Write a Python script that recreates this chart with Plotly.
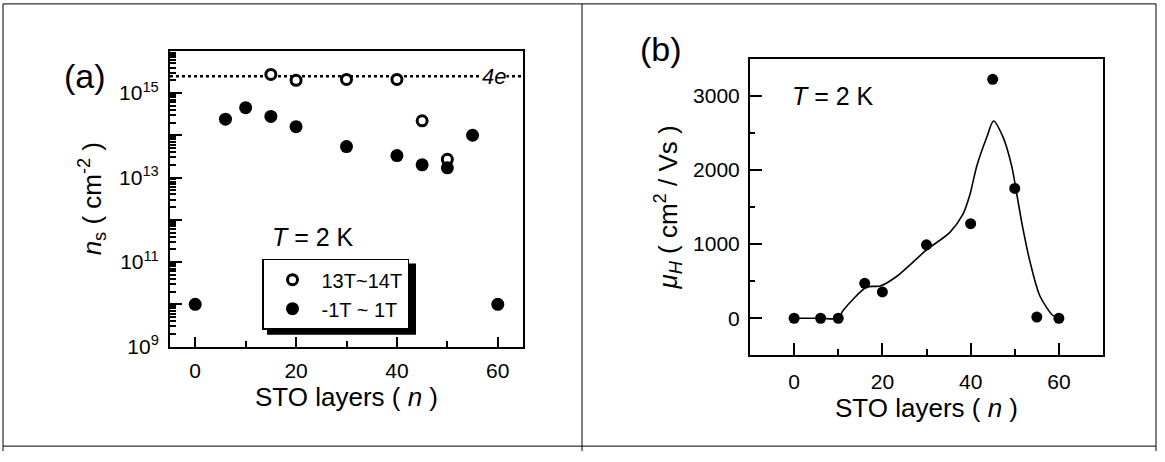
import plotly.graph_objects as go
import math

W, H = 1165, 462

# ---- Data panel (a) ----
high_field_n = [15, 20, 30, 40, 45, 50]
high_field_ns = [2.75e15, 2.0e15, 2.1e15, 2.1e15, 2.2e14, 2.7e13]
low_field_n = [0, 6, 10, 15, 20, 30, 40, 45, 50, 55, 60]
low_field_ns = [1e10, 2.4e14, 4.5e14, 2.8e14, 1.6e14, 5.4e13, 3.3e13, 2.0e13, 1.7e13, 1.0e14, 1e10]
four_e_level = 2.5e15

# ---- Data panel (b) ----
mob_n = [0, 6, 10, 16, 20, 30, 40, 45, 50, 55, 60]
mob_mu = [0, 0, 0, 470, 355, 990, 1275, 3220, 1750, 15, 0]
curve_n = [0, 6, 10, 11.1, 16.5, 19.5, 23.3, 30, 35.3, 38.2, 39.8, 41.4, 43.7, 45.2,
           47.3, 49.3, 50.5, 51.8, 53.4, 55.7, 58.6, 60]
curve_mu = [0, 0, 0, 105, 420, 434, 566, 920, 1158, 1395, 1658, 2053, 2447, 2658,
            2447, 2053, 1658, 1224, 776, 300, 40, 0]

y_tick_exps = [9, 10, 11, 12, 13, 14, 15, 16]
y_tick_labels = ["10<sup>9</sup>", "", "10<sup>11</sup>", "", "10<sup>13</sup>", "", "10<sup>15</sup>", ""]

FONT = "Arial, Liberation Sans, sans-serif"

def px_x(p):
    return p / W

def px_y(p):
    return 1 - p / H

fig = go.Figure()

fig.add_trace(go.Scatter(
    x=high_field_n, y=high_field_ns, mode="markers", name="13T~14T",
    marker=dict(symbol="circle", size=10, color="white", line=dict(color="black", width=3)),
    xaxis="x", yaxis="y"))
fig.add_trace(go.Scatter(
    x=low_field_n, y=low_field_ns, mode="markers", name="-1T ~ 1T",
    marker=dict(symbol="circle", size=13, color="black", line=dict(width=0)),
    xaxis="x", yaxis="y"))

fig.add_trace(go.Scatter(
    x=curve_n, y=curve_mu, mode="lines", showlegend=False,
    line=dict(color="black", width=1.6, shape="spline", smoothing=0.8),
    xaxis="x2", yaxis="y2"))
fig.add_trace(go.Scatter(
    x=mob_n, y=mob_mu, mode="markers", showlegend=False,
    marker=dict(symbol="circle", size=11, color="black"),
    xaxis="x2", yaxis="y2"))

minor_log = [k * 10 ** e for e in range(9, 16) for k in range(2, 10)]

TITLE_SIZE = 26
axis_common = dict(showline=True, linecolor="black", linewidth=2, mirror=True,
                   ticks="inside", tickcolor="black", tickwidth=2, showgrid=False,
                   zeroline=False, tickfont=dict(family=FONT, size=21, color="black"))

LEG_TOP = 265
fig.update_layout(
    width=W, height=H,
    margin=dict(l=0, r=0, t=0, b=0),
    paper_bgcolor="white", plot_bgcolor="white",
    font=dict(family=FONT, color="black"),
    xaxis=dict(domain=[px_x(170), px_x(523)], anchor="y", range=[-5, 65],
               tickvals=[0, 20, 40, 60], ticklen=10,
               minor=dict(ticks="inside", tickvals=[10, 30, 50], ticklen=6, tickwidth=2, tickcolor="black"),
               title=dict(text="STO layers ( <i>n</i> )", font=dict(size=TITLE_SIZE), standoff=4),
               ticklabelstandoff=4, **axis_common),
    yaxis=dict(domain=[px_y(355), px_y(52)], anchor="x", type="log", range=[9, 16],
               tickvals=[10 ** e for e in y_tick_exps], ticktext=y_tick_labels, ticklen=12,
               minor=dict(ticks="inside", tickvals=minor_log, ticklen=6, tickwidth=2, tickcolor="black"),
               title=dict(text="<i>n</i><sub>s</sub> ( cm<sup>-2</sup> )", font=dict(size=TITLE_SIZE), standoff=10),
               ticklabelstandoff=5, **axis_common),
    xaxis2=dict(domain=[px_x(750), px_x(1103)], anchor="y2", range=[-10, 70],
                tickvals=[0, 20, 40, 60], ticklen=12,
                minor=dict(ticks="inside", tickvals=[10, 30, 50], ticklen=6, tickwidth=2, tickcolor="black"),
                title=dict(text="STO layers ( <i>n</i> )", font=dict(size=TITLE_SIZE), standoff=4),
                ticklabelstandoff=6, **axis_common),
    yaxis2=dict(domain=[px_y(364), px_y(60)], anchor="x2", range=[-500, 3500],
                tickvals=[0, 1000, 2000, 3000], ticklen=12,
                minor=dict(ticks="inside", tickvals=[500, 1500, 2500], ticklen=5, tickwidth=2, tickcolor="black"),
                title=dict(text="<i>μ</i><sub><i>H</i></sub> ( cm<sup>2</sup> / Vs )", font=dict(size=TITLE_SIZE), standoff=8),
                ticklabelstandoff=4, **axis_common),
    legend=dict(x=px_x(262), y=px_y(LEG_TOP), xanchor="left", yanchor="top",
                bgcolor="white", bordercolor="black", borderwidth=1.5,
                font=dict(family=FONT, size=20, color="black"),
                itemwidth=48, tracegroupgap=0),
    showlegend=True,
)

# dotted 4e level
fig.add_hline(y=four_e_level, line=dict(color="black", width=2.5, dash="dot"),
              xref="x", yref="y", layer="below")

shapes_extra = []
# legend shadow (offset behind the legend box)
shapes_extra.append(dict(type="rect", xref="paper", yref="paper",
                         x0=px_x(267), x1=px_x(416), y0=px_y(343), y1=px_y(LEG_TOP + 5),
                         fillcolor="black", line=dict(width=0), layer="above"))
# outer table frame
for xp in [3, 582, 1156]:
    shapes_extra.append(dict(type="line", xref="paper", yref="paper",
                             x0=px_x(xp), x1=px_x(xp), y0=px_y(4), y1=0,
                             line=dict(color="black", width=1)))
for yp in [4, 457]:
    shapes_extra.append(dict(type="line", xref="paper", yref="paper",
                             x0=px_x(3), x1=px_x(1156), y0=px_y(yp), y1=px_y(yp),
                             line=dict(color="black", width=1)))
for s in shapes_extra:
    fig.add_shape(**s)

ann = [
    dict(text="(a)", x=px_x(85), y=px_y(78), xref="paper", yref="paper",
         xanchor="center", yanchor="middle", showarrow=False, font=dict(size=34)),
    dict(text="(b)", x=px_x(661), y=px_y(50), xref="paper", yref="paper",
         xanchor="center", yanchor="middle", showarrow=False, font=dict(size=34)),
    dict(text="<i>T</i> = 2 K", x=px_x(270), y=px_y(243), xref="paper", yref="paper",
         xanchor="left", yanchor="middle", showarrow=False, font=dict(size=25)),
    dict(text="<i>T</i> = 2 K", x=px_x(790), y=px_y(98), xref="paper", yref="paper",
         xanchor="left", yanchor="middle", showarrow=False, font=dict(size=25)),
    dict(text="<i>4e</i>", x=59.2, y=math.log10(four_e_level), xref="x", yref="y",
         xanchor="center", yanchor="middle",
         showarrow=False, font=dict(size=22), bgcolor="white", borderpad=0),
]
for a in ann:
    fig.add_annotation(**a)

fig.write_html("out.html")
